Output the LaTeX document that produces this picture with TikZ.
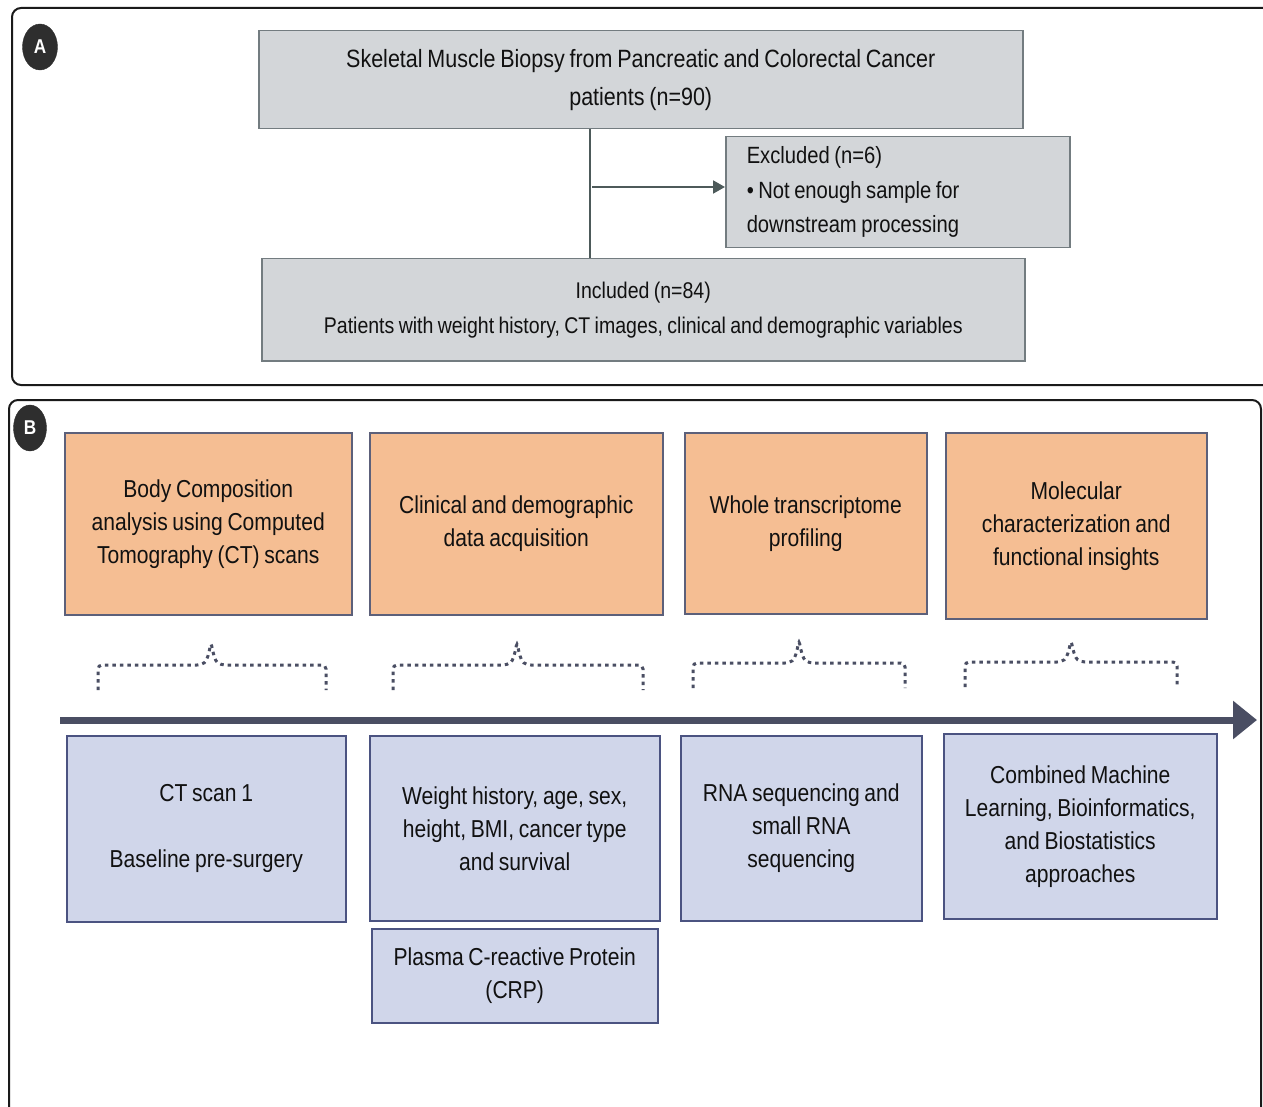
\documentclass[tikz,border=0pt]{standalone}
\usepackage{fontspec}
\setmainfont[FakeStretch=0.86, WordSpace=0.8]{Liberation Sans}
\usetikzlibrary{arrows.meta,shapes.geometric}

\definecolor{panelline}{HTML}{1A1A1A}
\definecolor{badgefill}{HTML}{2E2E2E}
\definecolor{grayfill}{HTML}{D3D6D9}
\definecolor{grayline}{HTML}{737C80}
\definecolor{orangefill}{HTML}{F5BE93}
\definecolor{orangeline}{HTML}{5C607A}
\definecolor{bluefill}{HTML}{D0D6EA}
\definecolor{blueline}{HTML}{4B5381}
\definecolor{linkcol}{HTML}{4D5A5A}
\definecolor{timecol}{HTML}{4A4E63}
\definecolor{txt}{HTML}{111111}

\tikzset{
  panel/.style={draw=panelline, line width=2pt, rounded corners=9pt},
  badge/.style={ellipse, fill=badgefill, draw=badgefill, minimum width=35pt,
    minimum height=46pt, inner sep=0pt, text=white,
    font=\fontsize{20}{20}\selectfont\bfseries},
  abox/.style={draw=grayline, fill=grayfill, line width=1.5pt, anchor=north west,
    inner sep=0pt, align=center, text=txt},
  obox/.style={draw=orangeline, fill=orangefill, line width=1.5pt, anchor=north west,
    inner sep=0pt, align=center, text=txt, font=\fontsize{24.5}{33}\selectfont},
  bbox/.style={draw=blueline, fill=bluefill, line width=1.5pt, anchor=north west,
    inner sep=0pt, align=center, text=txt, font=\fontsize{24.5}{33}\selectfont},
  link/.style={draw=linkcol, line width=2pt},
  brace/.style={draw=timecol, line width=3pt, dash pattern=on 3.5pt off 4pt,
    rounded corners=4pt},
}

\begin{document}
\begin{tikzpicture}[x=1pt, y=-1pt]
\useasboundingbox (0,0) rectangle (1263,1107);

% ---------- panel A ----------
\draw[panel] (12,8) rectangle (1280,385);
\node[badge] (la) at (40,47) {A};

\node[abox, minimum width=764pt, minimum height=98pt,
  font=\fontsize{25}{38}\selectfont] (top) at (258,30)
  {Skeletal Muscle Biopsy from Pancreatic and Colorectal Cancer\\patients (n=90)};
\node[abox, minimum width=344pt, minimum height=111pt, align=flush left,
  font=\fontsize{23.5}{34.5}\selectfont, text width=302pt] (excl) at (725,136)
  {Excluded (n=6)\\\textbullet{} Not enough sample for\\downstream processing};
\node[abox, minimum width=763pt, minimum height=102pt,
  font=\fontsize{22.7}{35}\selectfont] (incl) at (261,258)
  {Included (n=84)\\Patients with weight history, CT images, clinical and demographic variables};

\coordinate (vx) at (590,0);
\draw[link] (top.south -| vx) -- (incl.north -| vx);
\draw[link, -{Triangle[length=12pt, width=13pt]}]
  ([xshift=2pt]vx |- 0,187) -- (excl.west |- 0,187);

% ---------- panel B ----------
\draw[panel] (9,400) rectangle (1261,1130);
\node[badge, minimum width=33pt] (lb) at (30,428) {B};

\node[obox, minimum width=287pt, minimum height=182pt] (o1) at (64,432)
  {Body Composition\\analysis using Computed\\Tomography (CT) scans};
\node[obox, minimum width=293pt, minimum height=182pt] (o2) at (369,432)
  {Clinical and demographic\\data acquisition};
\node[obox, minimum width=242pt, minimum height=181pt] (o3) at (684,432)
  {Whole transcriptome\\profiling};
\node[obox, minimum width=261pt, minimum height=186pt] (o4) at (945,432)
  {Molecular\\characterization and\\functional insights};

% dotted braces under the stage headings
\foreach \xa/\xp/\xb/\yb/\yt in {98/211/326/665/642, 393/517/643/665/642,
                                  693/799/905/663/640, 965/1071/1177/662/640}{
  \draw[brace] (\xa,\yb+25) -- (\xa,\yb) -- (\xp-10,\yb)
    .. controls (\xp-4,\yb-4) and (\xp-2,\yb-12) .. (\xp,\yt)
    .. controls (\xp+2,\yb-12) and (\xp+4,\yb-4) .. (\xp+10,\yb)
    -- (\xb,\yb) -- (\xb,\yb+25);
}

% timeline
\coordinate (ts) at (60,720);
\coordinate (te) at (1257,720);
\draw[draw=timecol, line width=7pt, -{Triangle[length=24pt, width=37pt]}] (ts) -- (te);

\node[bbox, minimum width=279pt, minimum height=186pt] (b1) at (66,735)
  {CT scan 1\\[33pt]Baseline pre-surgery};
\node[bbox, minimum width=290pt, minimum height=185pt] (b2) at (369,735)
  {Weight history, age, sex,\\height, BMI, cancer type\\and survival};
\node[bbox, minimum width=241pt, minimum height=185pt] (b3) at (680,735)
  {RNA sequencing and\\small RNA\\sequencing};
\node[bbox, minimum width=273pt, minimum height=185pt] (b4) at (943,733)
  {Combined Machine\\Learning, Bioinformatics,\\and Biostatistics\\approaches};
\node[bbox, minimum width=286pt, minimum height=94pt] (b5) at (371,928)
  {Plasma C-reactive Protein\\(CRP)};
\end{tikzpicture}
\end{document}
